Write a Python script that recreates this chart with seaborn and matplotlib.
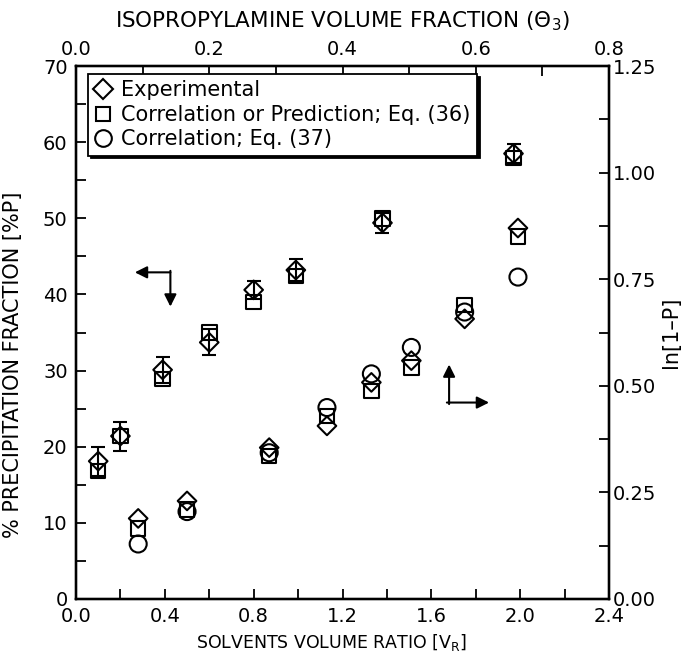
import matplotlib.pyplot as plt
import matplotlib.ticker as mtick
import seaborn as sns
from matplotlib.lines import Line2D

# --- data ---
vr_left = [0.10, 0.20, 0.39, 0.60, 0.80, 0.99, 1.38, 1.97]
p_exp = [18.1, 21.4, 30.1, 33.7, 40.6, 43.2, 49.4, 58.5]
p_err = [1.9, 1.9, 1.7, 1.7, 1.2, 1.4, 1.3, 1.3]
p_eq36 = [16.8, 21.4, 28.9, 35.0, 39.0, 42.4, 50.0, 57.9]

vr_right = [0.28, 0.50, 0.87, 1.13, 1.33, 1.51, 1.75, 1.99]
ln_exp = [0.189, 0.230, 0.355, 0.406, 0.508, 0.559, 0.657, 0.870]
ln_eq36 = [0.166, 0.210, 0.335, 0.429, 0.488, 0.543, 0.689, 0.850]
ln_eq37 = [0.129, 0.205, 0.343, 0.449, 0.528, 0.590, 0.673, 0.755]

legend_labels = [
    "Experimental",
    "Correlation or Prediction; Eq. (36)",
    "Correlation; Eq. (37)",
]

sns.set_style("ticks")
plt.rcParams["font.family"] = ["DejaVu Sans"]
plt.rcParams["mathtext.fontset"] = "dejavusans"
plt.rcParams["font.size"] = 14
plt.rcParams["axes.linewidth"] = 1.6
for key in ("text.color", "axes.labelcolor", "xtick.color", "ytick.color",
            "axes.edgecolor"):
    plt.rcParams[key] = "black"

fig = plt.figure(figsize=(6.82, 6.60), dpi=100)
ax = fig.add_axes([76 / 682, 61 / 660, 533 / 682, 533 / 660])
ax_r = ax.twinx()
ax_t = ax.twiny()

mk = dict(facecolor="none", edgecolor="black", linewidth=1.5, legend=False)

# left axis: % precipitation
ax.errorbar(vr_left, p_exp, yerr=p_err, fmt="none", ecolor="black",
            elinewidth=1.5, capsize=5, capthick=1.5)
sns.scatterplot(x=vr_left, y=p_eq36, marker="s", s=110, ax=ax, **mk)
sns.scatterplot(x=vr_left, y=p_exp, marker="D", s=90, ax=ax, **mk)

# right axis: ln(1-P)
sns.scatterplot(x=vr_right, y=ln_eq36, marker="s", s=110, ax=ax_r, **mk)
sns.scatterplot(x=vr_right, y=ln_exp, marker="D", s=90, ax=ax_r, **mk)
sns.scatterplot(x=vr_right, y=ln_eq37, marker="o", s=150, ax=ax_r, **mk)

ax.set_xlim(0, 2.4)
ax.set_ylim(0, 70)
ax_r.set_ylim(0, 1.25)
ax_t.set_xlim(0, 0.8)

ax.xaxis.set_major_locator(mtick.MultipleLocator(0.4))
ax.xaxis.set_minor_locator(mtick.MultipleLocator(0.2))
ax.xaxis.set_major_formatter(mtick.FormatStrFormatter("%.1f"))
ax.yaxis.set_major_locator(mtick.MultipleLocator(10))
ax.yaxis.set_minor_locator(mtick.MultipleLocator(5))
ax_r.yaxis.set_major_locator(mtick.MultipleLocator(0.25))
ax_r.yaxis.set_minor_locator(mtick.MultipleLocator(0.125))
ax_r.yaxis.set_major_formatter(mtick.FormatStrFormatter("%.2f"))
ax_t.xaxis.set_major_locator(mtick.MultipleLocator(0.2))
ax_t.xaxis.set_minor_locator(mtick.MultipleLocator(0.1))
ax_t.xaxis.set_major_formatter(mtick.FormatStrFormatter("%.1f"))

for a in (ax, ax_r, ax_t):
    a.tick_params(which="both", direction="in", length=7, width=1.3,
                  labelsize=14, pad=3, colors="black")
    for sp in a.spines.values():
        sp.set_linewidth(1.6)
        sp.set_color("black")
ax.tick_params(axis="x", which="both", top=False, pad=6)
ax.tick_params(axis="y", which="both", right=False, pad=6)
ax_t.tick_params(axis="x", pad=5)

ax.set_xlabel("SOLVENTS VOLUME RATIO [V$_\\mathregular{R}$]", fontsize=12.5)
ax.xaxis.set_label_coords(0.48, -0.062)
ax.set_ylabel("% PRECIPITATION FRACTION [%P]", fontsize=15)
ax.yaxis.set_label_coords(-0.1, 0.44)
ax_r.set_ylabel("ln[1–P]", fontsize=15, labelpad=3)
ax_t.set_xlabel("ISOPROPYLAMINE VOLUME FRACTION ($\\Theta_\\mathregular{3}$)",
                fontsize=15.5, labelpad=9)

# direction arrows
arr = dict(arrowstyle="-|>", color="black", lw=1.5, mutation_scale=18,
           shrinkA=0, shrinkB=0)
ax.annotate("", xy=(0.265, 42.9), xytext=(0.425, 42.9), arrowprops=arr)
ax.annotate("", xy=(0.425, 38.4), xytext=(0.425, 43.1), arrowprops=arr)
ax.annotate("", xy=(1.68, 30.8), xytext=(1.68, 25.6), arrowprops=arr)
ax.annotate("", xy=(1.86, 25.8), xytext=(1.67, 25.8), arrowprops=arr)

handles = [
    Line2D([], [], marker="D", ls="none", mfc="none", mec="black", ms=10, mew=1.5),
    Line2D([], [], marker="s", ls="none", mfc="none", mec="black", ms=10, mew=1.5),
    Line2D([], [], marker="o", ls="none", mfc="none", mec="black", ms=12, mew=1.5),
]
leg = ax_t.legend(handles, legend_labels, loc="upper left",
                  bbox_to_anchor=(0.0225, 0.985), borderaxespad=0,
                  fancybox=False, frameon=True, fontsize=15,
                  handlelength=0.8, handletextpad=0.5, labelspacing=0.22,
                  borderpad=0.3, shadow={"color": "black", "alpha": 1})
leg.get_frame().set_edgecolor("black")
leg.get_frame().set_linewidth(1.3)

fig.savefig("out.png", dpi=100)
